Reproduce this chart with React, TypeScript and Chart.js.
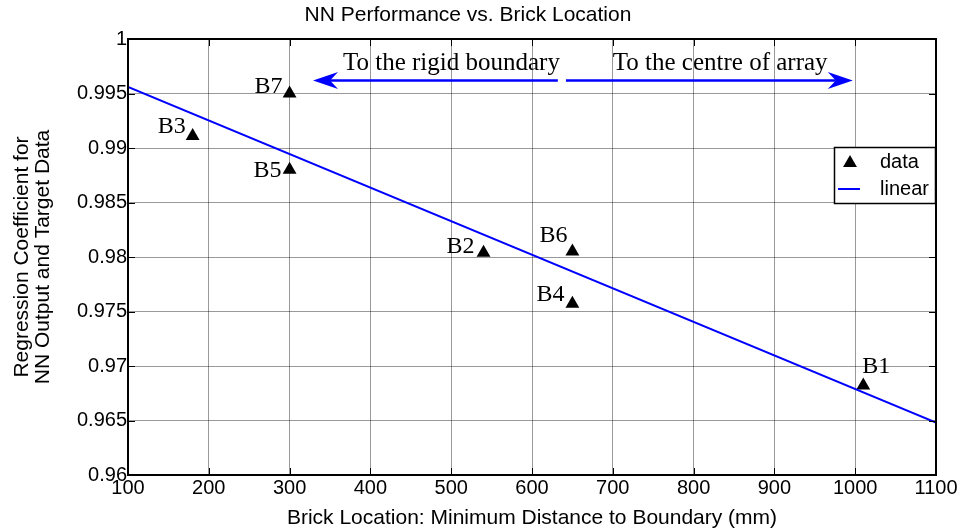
import React, { useEffect, useRef } from 'react';
import { Chart, registerables } from 'chart.js';

Chart.register(...registerables);

// ---- data ----
const brickNames = ['B1', 'B2', 'B3', 'B4', 'B5', 'B6', 'B7'];
const brickLocation = [1010, 540, 180, 650, 300, 650, 300];
const brickRegression = [0.9682, 0.9804, 0.9911, 0.9757, 0.988, 0.9805, 0.995];

const fitLocation = [100, 1100];
const fitRegression = [0.9956, 0.9648];

const xMin = 100;
const xMax = 1100;
const xStep = 100;
const yMin = 0.96;
const yMax = 1;
const yStep = 0.005;

const chartTitle = 'NN Performance vs. Brick Location';
const xTitle = 'Brick Location: Minimum Distance to Boundary (mm)';
const yTitle = ['Regression Coefficient for', 'NN Output and Target Data'];
const legendLabels = ['data', 'linear'];

// annotation texts and anchors (data coordinates)
const arrowTexts = ['To the rigid boundary', 'To the centre of array'];
const arrowTextX = [366, 700];
const arrowTextY = 0.9972;
const arrowY = 0.9962;
const arrowFrom = [632, 642];
const arrowTo = [329, 997];

// label placement relative to marker (pixels): dx, dy, align
const labelOffsets: [number, number, CanvasTextAlign][] = [
  [-1, -13, 'left'],
  [-9, 0, 'right'],
  [-7, -3.5, 'right'],
  [-8, -3, 'right'],
  [-8, 7.5, 'right'],
  [-5, -9.5, 'right'],
  [-7, -1, 'right'],
];

const SANS = "'Liberation Sans', Arial, sans-serif";
const SERIF = "'Liberation Serif', 'Times New Roman', serif";
const BLUE = '#0000ff';

function drawTriangle(ctx: CanvasRenderingContext2D, x: number, y: number, r: number) {
  ctx.beginPath();
  ctx.moveTo(x, y - r);
  ctx.lineTo(x + r * Math.sin(Math.PI / 3), y + r / 2);
  ctx.lineTo(x - r * Math.sin(Math.PI / 3), y + r / 2);
  ctx.closePath();
  ctx.fill();
}

function drawArrow(ctx: CanvasRenderingContext2D, x0: number, x1: number, y: number) {
  const dir = x1 > x0 ? 1 : -1;
  const headLen = 25;
  const halfW = 8.5;
  const notch = 17;
  ctx.beginPath();
  ctx.moveTo(x0, y);
  ctx.lineTo(x1 - dir * notch, y);
  ctx.stroke();
  ctx.beginPath();
  ctx.moveTo(x1, y);
  ctx.lineTo(x1 - dir * headLen, y - halfW);
  ctx.lineTo(x1 - dir * notch, y);
  ctx.lineTo(x1 - dir * headLen, y + halfW);
  ctx.closePath();
  ctx.fill();
}

const decorPlugin = {
  id: 'decor',
  afterDraw(chart: any) {
    const { ctx, chartArea: a, scales } = chart;
    const xs = scales.x;
    const ys = scales.y;
    ctx.save();

    // inward tick marks
    ctx.strokeStyle = '#000';
    ctx.lineWidth = 1;
    const tl = 7;
    xs.ticks.forEach((t: any) => {
      const px = Math.round(xs.getPixelForValue(t.value)) + 0.5;
      ctx.beginPath();
      ctx.moveTo(px, a.bottom);
      ctx.lineTo(px, a.bottom - tl);
      ctx.moveTo(px, a.top);
      ctx.lineTo(px, a.top + tl);
      ctx.stroke();
    });
    ys.ticks.forEach((t: any) => {
      const py = Math.round(ys.getPixelForValue(t.value)) + 0.5;
      ctx.beginPath();
      ctx.moveTo(a.left, py);
      ctx.lineTo(a.left + tl, py);
      ctx.moveTo(a.right, py);
      ctx.lineTo(a.right - tl, py);
      ctx.stroke();
    });

    // axes box
    ctx.lineWidth = 2;
    ctx.strokeRect(Math.round(a.left), Math.round(a.top), Math.round(a.width), Math.round(a.height));

    // brick labels
    ctx.fillStyle = '#000';
    ctx.font = `24px ${SERIF}`;
    ctx.textBaseline = 'alphabetic';
    brickNames.forEach((name, i) => {
      const px = xs.getPixelForValue(brickLocation[i]);
      const py = ys.getPixelForValue(brickRegression[i]);
      const [dx, dy, align] = labelOffsets[i];
      ctx.textAlign = align;
      ctx.fillText(name, px + dx, py + dy);
    });

    // arrows + texts
    ctx.font = `25px ${SERIF}`;
    ctx.textAlign = 'left';
    arrowTexts.forEach((txt, i) => {
      ctx.fillText(txt, xs.getPixelForValue(arrowTextX[i]), ys.getPixelForValue(arrowTextY));
    });
    ctx.strokeStyle = BLUE;
    ctx.fillStyle = BLUE;
    ctx.lineWidth = 2.5;
    const ay = ys.getPixelForValue(arrowY);
    arrowFrom.forEach((f, i) => {
      drawArrow(ctx, xs.getPixelForValue(f), xs.getPixelForValue(arrowTo[i]), ay);
    });

    // legend
    const lw = 101;
    const lh = 56;
    const lx = Math.round(a.right) - lw - 1;
    const ly = Math.round(a.top) + 108;
    ctx.fillStyle = '#fff';
    ctx.fillRect(lx, ly, lw, lh);
    ctx.strokeStyle = '#000';
    ctx.lineWidth = 1.5;
    ctx.strokeRect(lx + 0.5, ly + 0.5, lw, lh);
    ctx.fillStyle = '#000';
    drawTriangle(ctx, lx + 16, ly + 16, 8);
    ctx.strokeStyle = BLUE;
    ctx.lineWidth = 2;
    ctx.beginPath();
    ctx.moveTo(lx + 4, ly + 42);
    ctx.lineTo(lx + 26, ly + 42);
    ctx.stroke();
    ctx.fillStyle = '#000';
    ctx.font = `20px ${SANS}`;
    ctx.textAlign = 'left';
    ctx.textBaseline = 'middle';
    ctx.fillText(legendLabels[0], lx + 46, ly + 15);
    ctx.fillText(legendLabels[1], lx + 46, ly + 42);

    ctx.restore();
  },
};

export default function App() {
  const ref = useRef<HTMLCanvasElement | null>(null);

  useEffect(() => {
    if (!ref.current) return;
    const scatterData = brickLocation.map((x, i) => ({ x, y: brickRegression[i] }));
    const fitData = fitLocation.map((x, i) => ({ x, y: fitRegression[i] }));

    const chart = new Chart(ref.current, {
      type: 'scatter',
      data: {
        datasets: [
          {
            label: legendLabels[0],
            data: scatterData,
            pointStyle: 'triangle',
            pointRadius: 8,
            pointBackgroundColor: '#000',
            pointBorderColor: '#000',
            pointBorderWidth: 0,
            showLine: false,
            order: 1,
          },
          {
            type: 'line',
            label: legendLabels[1],
            data: fitData,
            borderColor: BLUE,
            borderWidth: 2,
            pointRadius: 0,
            fill: false,
            tension: 0,
            order: 0,
          } as any,
        ],
      },
      options: {
        responsive: false,
        animation: false,
        devicePixelRatio: 1,
        layout: { padding: { left: 0, right: 26, top: 0, bottom: 0 } },
        plugins: {
          legend: { display: false },
          tooltip: { enabled: false },
          title: {
            display: true,
            text: chartTitle,
            color: '#000',
            font: { family: SANS, size: 21, weight: 'normal' },
            padding: { top: 3, bottom: 10.8 },
          },
        },
        scales: {
          x: {
            type: 'linear',
            min: xMin,
            max: xMax,
            border: { display: false },
            grid: { color: 'rgba(0,0,0,0.4)', lineWidth: 1, drawTicks: false },
            ticks: {
              stepSize: xStep,
              autoSkip: false,
              maxRotation: 0,
              color: '#000',
              padding: 1.5,
              font: { family: SANS, size: 20 },
              callback: (v: any) => String(Math.round(Number(v))),
            },
            title: {
              display: true,
              text: xTitle,
              color: '#000',
              font: { family: SANS, size: 21 },
              padding: { top: 0, bottom: 1.4 },
            },
            afterFit: (s: any) => {
              s.height = 57;
            },
          },
          y: {
            type: 'linear',
            min: yMin,
            max: yMax,
            border: { display: false },
            grid: { color: 'rgba(0,0,0,0.4)', lineWidth: 1, drawTicks: false },
            ticks: {
              stepSize: yStep,
              autoSkip: false,
              color: '#000',
              padding: 1,
              font: { family: SANS, size: 20 },
              callback: (v: any) => String(parseFloat(Number(v).toFixed(3))),
            },
            title: {
              display: true,
              text: yTitle,
              color: '#000',
              font: { family: SANS, size: 21, lineHeight: 0.97 },
              padding: { top: 12.3, bottom: 0 },
            },
            afterFit: (s: any) => {
              s.width = 128;
            },
          },
        },
      },
      plugins: [decorPlugin],
    });
    return () => chart.destroy();
  }, []);

  return (
    <div style={{ position: 'fixed', left: 0, top: 0, width: 962, height: 532, background: '#fff' }}>
      <canvas ref={ref} width={962} height={532} style={{ display: 'block' }} />
    </div>
  );
}
